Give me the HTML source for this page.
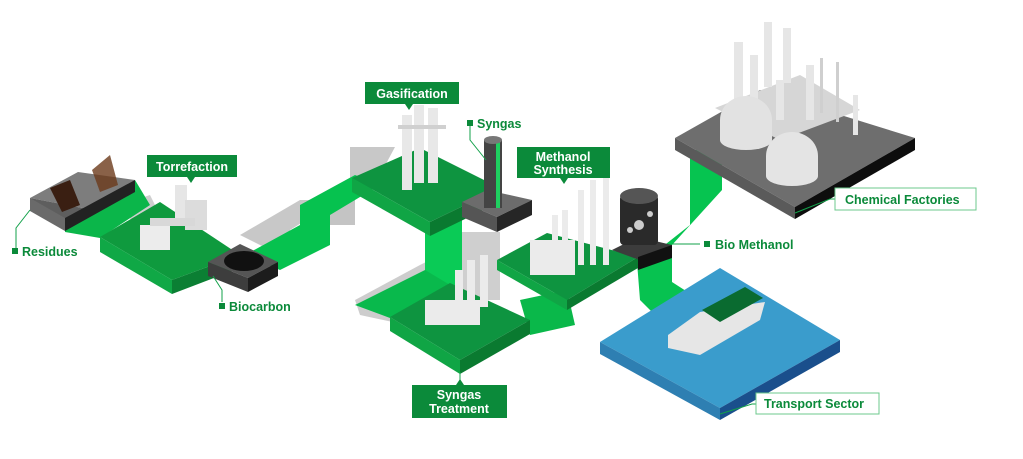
<!DOCTYPE html>
<html><head><style>
body{margin:0;background:#fff;}
svg{display:block}
text{font-family:"Liberation Sans",sans-serif;font-weight:bold}
</style></head><body>
<svg width="1023" height="459" viewBox="0 0 1023 459" xmlns="http://www.w3.org/2000/svg">
<!-- grey shadows -->
<polygon points="240,235 300,200 350,200 350,147 395,147 380,175 330,205 290,230 290,260" fill="#c8c8c8"/>
<polygon points="300,205 355,175 355,225 300,225" fill="#c4c4c4"/>
<polygon points="355,300 420,265 470,240 470,320 430,330 360,315" fill="#cdcdcd"/>
<polygon points="462,232 500,232 500,300 462,300" fill="#cfcfcf"/>
<polygon points="120,205 150,195 160,215 135,225" fill="#cfcfcf"/>
<!-- green paths -->
<polygon points="65,218 135,180 150,205 100,238 65,232" fill="#0bb64a"/>
<polygon points="245,255 300,225 300,205 355,175 380,185 330,215 330,245 280,270" fill="#06c24f"/>
<polygon points="425,225 462,218 462,300 425,300" fill="#0acb56"/>
<polygon points="355,305 425,270 450,285 390,318" fill="#09b94c"/>
<polygon points="520,300 567,290 575,325 530,335" fill="#0ab84a"/>
<polygon points="652,255 690,225 690,150 722,150 722,190 672,245" fill="#06c450"/>
<polygon points="637,262 672,255 672,282 700,300 660,320 640,300" fill="#07c250"/>
<!-- residues slab -->
<polygon points="30,198 78,172 135,180 93,210" fill="#7d7d7d"/>
<polygon points="30,198 93,210 65,220 30,208" fill="#5e5e5e"/>
<polygon points="30,198 65,218 65,231 30,211" fill="#6a6a6a"/>
<polygon points="65,218 135,180 135,192 65,231" fill="#222"/>
<polygon points="50,188 70,180 80,205 62,212" fill="#3a1f12"/>
<polygon points="92,170 110,155 118,185 100,192" fill="#6b3a1a" opacity=".8"/>
<!-- torrefaction slab -->
<polygon points="100,237 160,202 240,255 172,280" fill="#0f9a3e"/>
<polygon points="100,237 172,280 172,294 100,252" fill="#10a846"/>
<polygon points="172,280 240,255 240,268 172,294" fill="#0b7f33"/>
<rect x="140" y="225" width="30" height="25" fill="#ececec"/>
<rect x="175" y="185" width="12" height="40" fill="#e6e6e6"/>
<rect x="185" y="200" width="22" height="30" fill="#dcdcdc"/>
<rect x="150" y="218" width="45" height="8" fill="#d8d8d8"/>
<!-- biocarbon -->
<polygon points="208,262 240,244 278,262 248,278" fill="#555"/>
<polygon points="208,262 248,278 248,292 208,276" fill="#3d3d3d"/>
<polygon points="248,278 278,262 278,276 248,292" fill="#1c1c1c"/>
<ellipse cx="244" cy="261" rx="20" ry="10" fill="#111"/>
<!-- gasification slab -->
<polygon points="352,178 420,148 500,188 430,222" fill="#0e9440"/>
<polygon points="352,178 430,222 430,236 352,192" fill="#10a545"/>
<polygon points="430,222 500,188 500,202 430,236" fill="#0a7a30"/>
<g fill="#e8e8e8"><rect x="402" y="115" width="10" height="75"/><rect x="414" y="105" width="10" height="78"/><rect x="428" y="108" width="10" height="75"/><rect x="398" y="125" width="48" height="4" fill="#d0d0d0"/></g>
<!-- syngas block -->
<polygon points="462,202 487,190 532,200 497,217" fill="#6c6c6c"/>
<polygon points="462,202 497,217 497,232 462,217" fill="#555"/>
<polygon points="497,217 532,200 532,215 497,232" fill="#262626"/>
<rect x="484" y="140" width="18" height="68" fill="#444"/>
<rect x="496" y="140" width="4" height="68" fill="#1fd060"/>
<ellipse cx="493" cy="140" rx="9" ry="4" fill="#777"/>
<!-- syngas treatment -->
<polygon points="390,317 450,283 530,320 460,360" fill="#0e9440"/>
<polygon points="390,317 460,360 460,374 390,331" fill="#10a545"/>
<polygon points="460,360 530,320 530,334 460,374" fill="#0a7a30"/>
<g fill="#ebebeb"><rect x="425" y="300" width="55" height="25"/><rect x="455" y="270" width="8" height="45"/><rect x="467" y="260" width="8" height="50"/><rect x="480" y="255" width="8" height="52"/></g>
<!-- methanol synthesis -->
<polygon points="497,260 547,233 638,257 567,300" fill="#0e9440"/>
<polygon points="497,260 567,300 567,310 497,270" fill="#10a545"/>
<polygon points="567,300 638,257 638,268 567,310" fill="#0a7a30"/>
<g fill="#ebebeb"><rect x="530" y="240" width="45" height="35"/><rect x="552" y="215" width="6" height="60"/><rect x="562" y="210" width="6" height="65"/><rect x="578" y="190" width="6" height="75"/><rect x="590" y="180" width="6" height="85"/><rect x="603" y="170" width="6" height="95"/></g>
<!-- bio methanol -->
<polygon points="612,250 638,237 672,245 645,262" fill="#3c3c3c"/>
<polygon points="638,257 672,245 672,258 638,270" fill="#111"/>
<rect x="620" y="195" width="38" height="50" rx="4" fill="#2a2a2a"/>
<ellipse cx="639" cy="196" rx="19" ry="8" fill="#555"/>
<circle cx="639" cy="225" r="5" fill="#ccc"/><circle cx="650" cy="214" r="3" fill="#ccc"/><circle cx="630" cy="230" r="3" fill="#ccc"/>
<!-- chemical factories -->
<polygon points="675,138 760,90 915,138 795,207" fill="#6e6e6e"/>
<polygon points="675,138 795,207 795,219 675,150" fill="#5a5a5a"/>
<polygon points="795,207 915,138 915,150 795,219" fill="#0d0d0d"/>
<polygon points="715,108 800,75 860,110 780,140" fill="#d6d6d6"/>
<g fill="#e6e6e6"><rect x="734" y="42" width="9" height="60"/><rect x="750" y="55" width="8" height="45"/><rect x="764" y="22" width="8" height="65"/><rect x="783" y="28" width="8" height="55"/><rect x="776" y="80" width="8" height="40"/><rect x="806" y="65" width="8" height="55"/><rect x="820" y="58" width="3" height="55" fill="#cfcfcf"/><rect x="836" y="62" width="3" height="60" fill="#cfcfcf"/><rect x="853" y="95" width="5" height="40"/></g>
<path d="M720,120 a26,24 0 0 1 52,0 v20 a26,10 0 0 1 -52,0z" fill="#e2e2e2"/>
<path d="M766,156 a26,24 0 0 1 52,0 v20 a26,10 0 0 1 -52,0z" fill="#e4e4e4"/>
<!-- water -->
<polygon points="600,342 720,268 840,340 720,408" fill="#3a9ccc"/>
<polygon points="600,342 720,408 720,420 600,354" fill="#2e7fb2"/>
<polygon points="720,408 840,340 840,352 720,420" fill="#1a4f8c"/>
<polygon points="668,335 700,312 765,302 760,320 700,355 668,348" fill="#e6e6e6"/>
<polygon points="702,310 745,287 763,298 720,322" fill="#0a6b30"/>
<!-- leader lines -->
<g stroke="#12a14a" stroke-width="1" fill="none">
<polyline points="30,210 16,228 16,248"/>
<polyline points="213,276 222,290 222,302"/>
<polyline points="486,160 470,140 470,126"/>
<polyline points="672,244 700,244"/>
<polyline points="795,213 830,199 835,199"/>
<polyline points="720,414 752,404 756,404"/>
<line x1="460" y1="372" x2="460" y2="385"/>
</g>
<!-- label boxes -->
<g fill="#0b8a3a">
<rect x="147" y="155" width="90" height="22"/><polygon points="187,177 195,177 191,183"/>
<rect x="365" y="82" width="94" height="22"/><polygon points="405,104 413,104 409,110"/>
<rect x="517" y="147" width="93" height="31"/><polygon points="560,178 568,178 564,184"/>
<rect x="412" y="385" width="95" height="33"/><polygon points="456,385 464,385 460,379"/>
<rect x="12" y="248" width="6" height="6"/><rect x="219" y="303" width="6" height="6"/><rect x="467" y="120" width="6" height="6"/><rect x="704" y="241" width="6" height="6"/>
</g>
<g fill="#fff" font-size="12.5" text-anchor="middle">
<text x="192" y="171">Torrefaction</text>
<text x="412" y="98">Gasification</text>
<text x="563" y="161">Methanol</text>
<text x="563" y="174">Synthesis</text>
<text x="459" y="399">Syngas</text>
<text x="459" y="413">Treatment</text>
</g>
<g fill="#0b8a3a" font-size="12.5">
<text x="22" y="256">Residues</text>
<text x="229" y="311">Biocarbon</text>
<text x="477" y="128">Syngas</text>
<text x="715" y="249">Bio Methanol</text>
</g>
<rect x="835" y="188" width="141" height="22" fill="#fff" stroke="#6cc98c"/>
<text x="845" y="204" fill="#0b8a3a" font-size="12.5">Chemical Factories</text>
<rect x="756" y="393" width="123" height="21" fill="#fff" stroke="#6cc98c"/>
<text x="764" y="408" fill="#0b8a3a" font-size="12.5">Transport Sector</text>
</svg>
</body></html>
